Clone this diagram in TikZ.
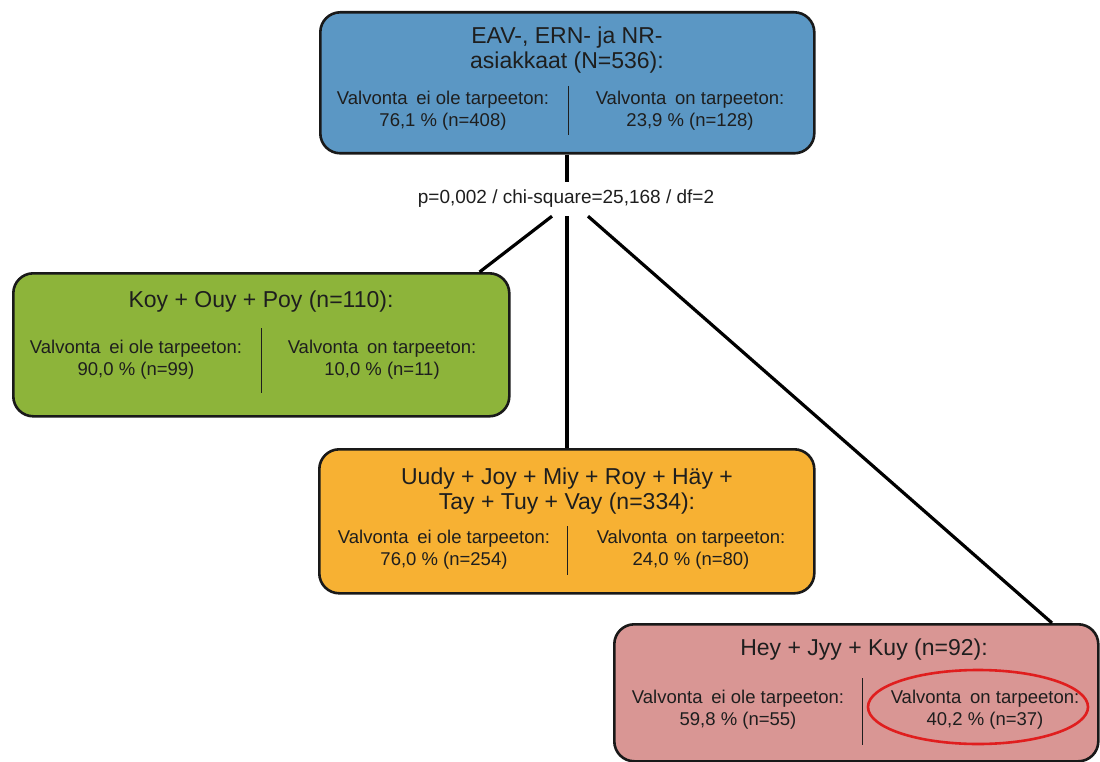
\documentclass[tikz,border=0pt]{standalone}
\usepackage{fontspec}
\setmainfont{Liberation Sans}
\usetikzlibrary{shapes.geometric}
\definecolor{cblue}{HTML}{5B97C4}
\definecolor{cgreen}{HTML}{8DB43A}
\definecolor{corange}{HTML}{F7B133}
\definecolor{cpink}{HTML}{D99694}
\definecolor{txt}{HTML}{1E1E1E}
\definecolor{hlred}{HTML}{E01E1E}
\begin{document}
\begin{tikzpicture}[x=1pt,y=-1pt,
  box/.style={draw=black!90, line width=2.6pt, rounded corners=20pt, anchor=north west, inner sep=0pt},
  ttl/.style={font=\fontsize{23}{25}\selectfont, text=txt, align=center},
  sub/.style={font=\fontsize{18.5}{22}\selectfont, text=txt, align=center},
  divider/.style={line width=1pt, draw=txt},
  conn/.style={line width=3.2pt, draw=black}]
\useasboundingbox (0,0) rectangle (1100,762);
% boxes
\node[box, fill=cblue, minimum width=494pt, minimum height=141pt] (top) at (319,11) {};
\node[box, fill=cgreen, minimum width=496pt, minimum height=143pt] (gbox) at (12,272) {};
\node[box, fill=corange, minimum width=495pt, minimum height=144pt] (obox) at (318,448) {};
\node[box, fill=cpink, minimum width=484pt, minimum height=137pt] (pbox) at (613,623) {};
% top texts
\node[ttl] (t1) at (567,50) {EAV-, ERN- ja NR-\\asiakkaat (N=536):};
\node[sub] (t2) at (443,111) {Valvonta\hspace{0.2em} ei ole tarpeeton:\\76,1 \% (n=408)};
\node[sub] (t3) at (690,111) {Valvonta\hspace{0.2em} on tarpeeton:\\23,9 \% (n=128)};
\draw[divider] (568,86) -- (568,135);
% green
\node[ttl] (g1) at (261,302) {Koy + Ouy + Poy (n=110):};
\node[sub] (g2) at (136,360) {Valvonta\hspace{0.2em} ei ole tarpeeton:\\90,0 \% (n=99)};
\node[sub] (g3) at (382,360) {Valvonta\hspace{0.2em} on tarpeeton:\\10,0 \% (n=11)};
\draw[divider] (261,328) -- (261,393);
% orange
\node[ttl] (o1) at (567,491) {Uudy + Joy + Miy + Roy + Häy +\\Tay + Tuy + Vay (n=334):};
\node[sub] (o2) at (444,550) {Valvonta\hspace{0.2em} ei ole tarpeeton:\\76,0 \% (n=254)};
\node[sub] (o3) at (691,550) {Valvonta\hspace{0.2em} on tarpeeton:\\24,0 \% (n=80)};
\draw[divider] (567,526) -- (567,575);
% pink
\node[ttl] (p1) at (864,650) {Hey + Jyy + Kuy (n=92):};
\node[sub] (p2) at (738,710) {Valvonta\hspace{0.2em} ei ole tarpeeton:\\59,8 \% (n=55)};
\node[sub] (p3) at (985,710) {Valvonta\hspace{0.2em} on tarpeeton:\\40,2 \% (n=37)};
\draw[divider] (862,678) -- (862,745);
\node[draw=hlred, line width=2.6pt, ellipse, minimum width=220pt, minimum height=74pt, inner sep=0pt] (hl) at (978,707) {};
% statistic label
\node[fill=white, font=\fontsize{19}{21}\selectfont, text=txt, inner sep=2pt, minimum height=34pt] (stat) at (566,199) {p=0,002 / chi-square=25,168 / df=2};
% connectors
\draw[conn] (top.south -| stat.north) ++(1,0) coordinate (tb) -- (tb |- stat.north);
\draw[conn] ([xshift=-14pt]stat.south) -- ([xshift=-31pt]gbox.north east);
\draw[conn] ([xshift=1pt]stat.south) -- ([xshift=249pt]obox.north west);
\draw[conn] ([xshift=22pt]stat.south) -- ([xshift=439pt]pbox.north west);
\end{tikzpicture}
\end{document}
